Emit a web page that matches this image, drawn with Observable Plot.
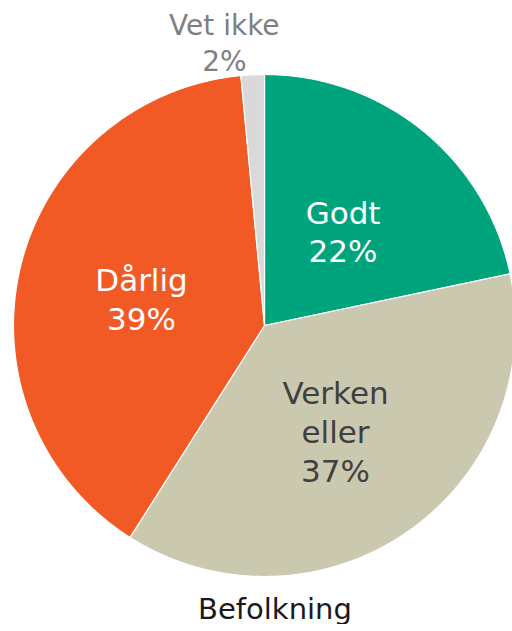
<!DOCTYPE html>
<html>
<head>
<meta charset="utf-8">
<script src="https://cdn.jsdelivr.net/npm/d3@7"></script>
<script src="https://cdn.jsdelivr.net/npm/@observablehq/plot@0.6"></script>
<style>
  html, body { margin: 0; padding: 0; background: #fff; }
  #chart { width: 512px; height: 590px; }
  .caption { font-family: "DejaVu Sans", sans-serif; font-size: 29px; color: #1a1a1a; text-align: center; width: 512px; padding-left: 38px; box-sizing: border-box; line-height: 1; margin-top: 5px; }
</style>
</head>
<body>
<div id="chart"></div>
<script>
// ---- data ----
const categories = ["Godt", "Verken eller", "Dårlig", "Vet ikke"];
const values = [21.7, 37.3, 39.5, 1.5];
const displayLabels = ["Godt\n22%", "Verken\neller\n37%", "Dårlig\n39%", "Vet ikke\n2%"];
const caption = "Befolkning";

// ---- styles / layout (not data) ----
const colors = ["#00a47c", "#cbc8b0", "#f15a25", "#d9d9d9"];
const textColors = ["#ffffff", "#404040", "#ffffff", "#7f7f7f"];
const labelPos = [[0.313, 0.378], [0.283, -0.418], [-0.49, 0.11], [-0.16, 1.13]]; // in radius units
const W = 512, H = 590, CX = 264, CY = 325, R = 251;

// build slice polygons from the data
const total = d3.sum(values);
const pts = [];
let acc = 0;
categories.forEach((c, i) => {
  const a0 = acc / total * 2 * Math.PI;
  acc += values[i];
  const a1 = acc / total * 2 * Math.PI;
  pts.push({cat: c, x: 0, y: 0});
  const n = Math.max(4, Math.ceil((a1 - a0) / 0.005));
  for (let k = 0; k <= n; k++) {
    const a = a0 + (a1 - a0) * k / n;
    pts.push({cat: c, x: Math.sin(a), y: Math.cos(a)});
  }
  pts.push({cat: c, x: 0, y: 0});
});

const labels = categories.map((c, i) => ({cat: c, text: displayLabels[i], x: labelPos[i][0], y: labelPos[i][1], color: textColors[i], size: i === 3 ? 28 : 31}));

const chart = Plot.plot({
  width: W, height: H,
  margin: 0,
  style: {background: "transparent", fontFamily: "DejaVu Sans, sans-serif"},
  x: {domain: [-CX / R, (W - CX) / R], axis: null},
  y: {domain: [(CY - H) / R, CY / R], axis: null},
  color: {domain: categories, range: colors},
  marks: [
    Plot.line(pts, {x: "x", y: "y", z: "cat", fill: "cat", stroke: "#ffffff", strokeWidth: 1.2, strokeLinejoin: "round"}),
    Plot.text(labels.filter(d => d.size === 31), {x: "x", y: "y", text: "text", fill: "color", fontSize: 31, lineHeight: 1.25, lineAnchor: "middle"}),
    Plot.text(labels.filter(d => d.size === 28), {x: "x", y: "y", text: "text", fill: "color", fontSize: 28, lineHeight: 1.28, lineAnchor: "middle"})
  ]
});
document.getElementById("chart").appendChild(chart);
const cap = document.createElement("div");
cap.className = "caption";
cap.textContent = caption;
document.body.appendChild(cap);
</script>
</body>
</html>
